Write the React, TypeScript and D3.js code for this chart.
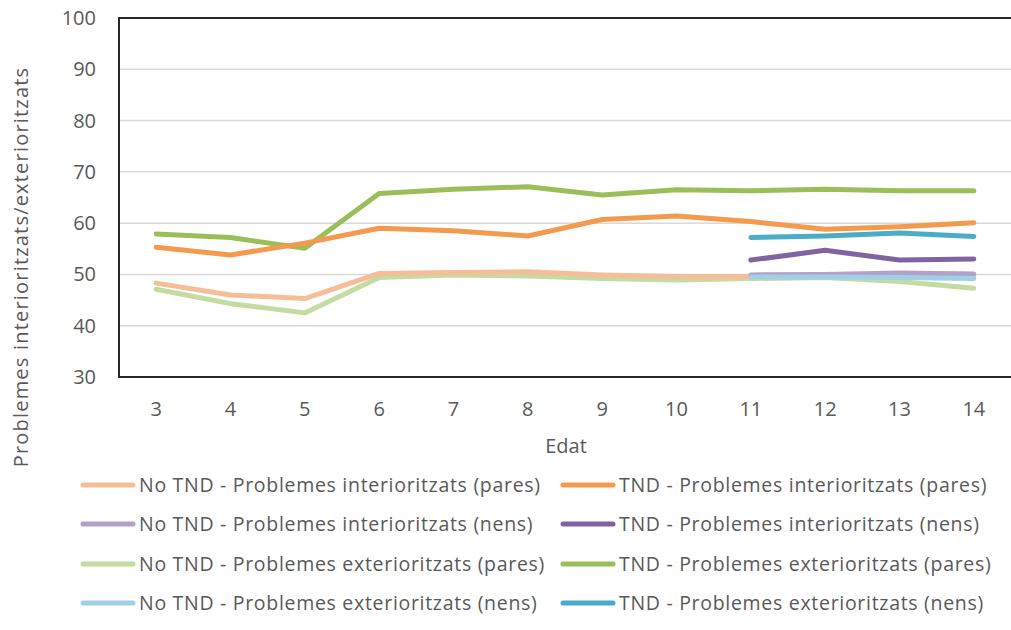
import React from "react";
import * as d3 from "d3";

const ages = ["3", "4", "5", "6", "7", "8", "9", "10", "11", "12", "13", "14"];
const yTicks = [30, 40, 50, 60, 70, 80, 90, 100];

const noTndIntPares = [48.3, 46.0, 45.3, 50.2, 50.4, 50.5, 49.9, 49.6, 49.6, 49.7, 49.8, 49.7];
const tndIntPares = [55.3, 53.8, 56.1, 59.0, 58.5, 57.5, 60.7, 61.4, 60.3, 58.8, 59.3, 60.1];
const noTndIntNens = [null, null, null, null, null, null, null, null, 49.9, 50.0, 50.3, 50.1];
const tndIntNens = [null, null, null, null, null, null, null, null, 52.8, 54.7, 52.8, 53.0];
const noTndExtPares = [47.1, 44.3, 42.5, 49.4, 49.9, 49.7, 49.2, 48.9, 49.2, 49.4, 48.6, 47.3];
const tndExtPares = [57.9, 57.2, 55.1, 65.8, 66.6, 67.1, 65.5, 66.5, 66.3, 66.6, 66.3, 66.3];
const noTndExtNens = [null, null, null, null, null, null, null, null, 49.5, 49.5, 49.4, 49.2];
const tndExtNens = [null, null, null, null, null, null, null, null, 57.2, 57.5, 58.1, 57.4];

const seriesNames = [
  "No TND - Problemes interioritzats (pares)",
  "TND - Problemes interioritzats (pares)",
  "No TND - Problemes interioritzats (nens)",
  "TND - Problemes interioritzats (nens)",
  "No TND - Problemes exterioritzats (pares)",
  "TND - Problemes exterioritzats (pares)",
  "No TND - Problemes exterioritzats (nens)",
  "TND - Problemes exterioritzats (nens)",
];
const seriesValues = [
  noTndIntPares, tndIntPares, noTndIntNens, tndIntNens,
  noTndExtPares, tndExtPares, noTndExtNens, tndExtNens,
];
const seriesColors = [
  "#F6BE98", "#F39A4E", "#B2A1CB", "#8064A2",
  "#C4DBA2", "#9ABF58", "#9FD0E4", "#4BACC6",
];
// draw order (later on top)
const drawOrder = [4, 0, 5, 1, 3, 7, 2, 6];

const W = 1011, H = 630;
const left = 119, right = 1011, top = 18, bottom = 377;
const FONT = "'Open Sans', sans-serif";
const TXT = "#595959";

export default function App() {
  const x = d3.scalePoint<string>().domain(ages).range([left, right]).padding(0.5);
  const y = d3.scaleLinear().domain([30, 100]).range([bottom, top]);
  const line = d3
    .line<number | null>()
    .defined((d) => d != null)
    .x((_, i) => x(ages[i]) as number)
    .y((d) => y(d as number));

  const legendCols = [83, 563];
  const legendRows = [485, 524, 564, 603];

  return (
    <svg width={W} height={H} style={{ position: "absolute", left: 0, top: 0, background: "#fff" }}>
      {yTicks.filter((t) => t !== 30 && t !== 100).map((t) => (
        <line key={t} x1={left} x2={right} y1={y(t)} y2={y(t)} stroke="#D9D9D9" strokeWidth={1.5} />
      ))}
      {drawOrder.map((si) => (
        <path
          key={si}
          d={line(seriesValues[si]) || ""}
          fill="none"
          stroke={seriesColors[si]}
          strokeWidth={5}
          strokeLinejoin="round"
          strokeLinecap="round"
        />
      ))}
      <path
        d={`M${right},${y(100)}H${left}V${y(30)}H${right}`}
        fill="none"
        stroke="#262626"
        strokeWidth={2}
      />
      {yTicks.map((t) => (
        <text key={t} x={96} y={y(t)} dy="0.35em" textAnchor="end" fontFamily={FONT} fontSize={20} fill={TXT}>
          {t}
        </text>
      ))}
      {ages.map((a) => (
        <text key={a} x={x(a)} y={409} dy="0.35em" textAnchor="middle" fontFamily={FONT} fontSize={20} fill={TXT}>
          {a}
        </text>
      ))}
      <text x={566} y={446} dy="0.35em" textAnchor="middle" fontFamily={FONT} fontSize={20} fill={TXT}>
        Edat
      </text>
      <text
        transform={`translate(21,267) rotate(-90)`}
        dy="0.35em"
        textAnchor="middle"
        fontFamily={FONT}
        fontSize={20}
        letterSpacing={1.2}
        fill={TXT}
      >
        Problemes interioritzats/exterioritzats
      </text>
      {seriesNames.map((name, i) => {
        const cx = legendCols[i % 2];
        const cy = legendRows[Math.floor(i / 2)];
        return (
          <g key={name}>
            <line x1={cx} x2={cx + 50} y1={cy} y2={cy} stroke={seriesColors[i]} strokeWidth={5} strokeLinecap="round" />
            <text x={cx + 56} y={cy} dy="0.35em" fontFamily={FONT} fontSize={19.5} letterSpacing={0.7} fill={TXT}>
              {name}
            </text>
          </g>
        );
      })}
    </svg>
  );
}
